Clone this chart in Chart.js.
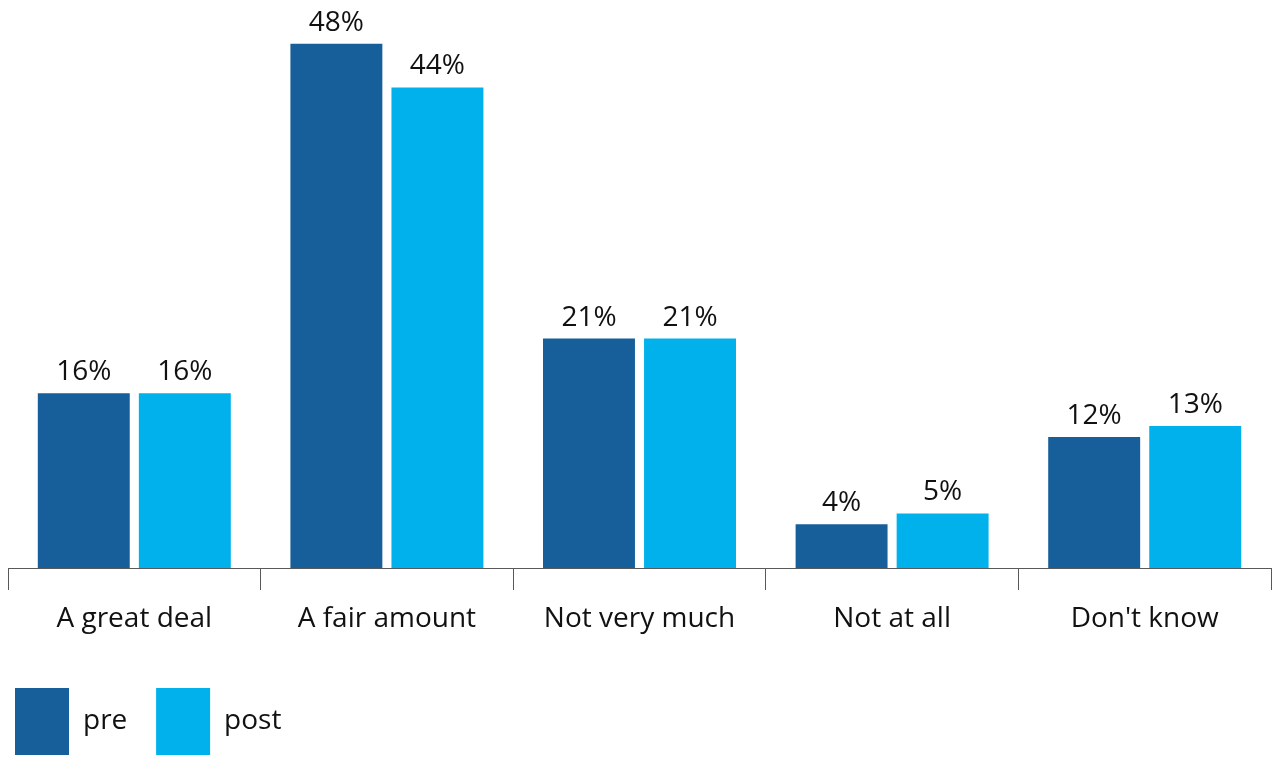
<!DOCTYPE html>
<html>
<head>
<meta charset="utf-8">
<script src="https://cdn.jsdelivr.net/npm/chart.js@4.4.1/dist/chart.umd.min.js"></script>
<style>
  html, body { margin: 0; padding: 0; background: #ffffff; }
  #wrap { width: 1276px; height: 758px; position: relative; }
</style>
</head>
<body>
<div id="wrap"><canvas id="c" width="1276" height="758"></canvas></div>
<script>
const categories = ["A great deal", "A fair amount", "Not very much", "Not at all", "Don't know"];
const preValues = [16, 48, 21, 4, 12];
const postValues = [16, 44, 21, 5, 13];
const seriesNames = ["pre", "post"];
const seriesColors = ["#165f9a", "#00b1eb"];

const FONT = "'Open Sans', 'DejaVu Sans', sans-serif";

const valueLabels = {
  id: 'valueLabels',
  afterDatasetsDraw(chart) {
    const ctx = chart.ctx;
    ctx.save();
    ctx.font = "28px " + FONT;
    ctx.fillStyle = "#111111";
    ctx.textAlign = "center";
    ctx.textBaseline = "alphabetic";
    chart.data.datasets.forEach((ds, di) => {
      const meta = chart.getDatasetMeta(di);
      meta.data.forEach((el, i) => {
        ctx.fillText(ds.data[i] + "%", el.x, el.y - 13);
      });
    });
    ctx.restore();
  }
};

new Chart(document.getElementById('c'), {
  type: 'bar',
  data: {
    labels: categories,
    datasets: [
      { label: seriesNames[0] + "   ", data: preValues, backgroundColor: seriesColors[0], borderWidth: 0,
        categoryPercentage: 0.8, barPercentage: 0.91 },
      { label: seriesNames[1], data: postValues, backgroundColor: seriesColors[1], borderWidth: 0,
        categoryPercentage: 0.8, barPercentage: 0.91 }
    ]
  },
  options: {
    responsive: false,
    animation: false,
    devicePixelRatio: 1,
    layout: { padding: { left: 8, right: 5, top: 0, bottom: 0 } },
    scales: {
      y: { display: false, min: 0, max: 52 },
      x: {
        grid: { display: true, offset: true, drawOnChartArea: false, drawTicks: true, tickLength: 22, color: "#595959", lineWidth: 1 },
        border: { display: true, color: "#595959", width: 1 },
        ticks: { font: { family: FONT, size: 28 }, color: "#111111", padding: 12 },
        afterFit(scale) { scale.height = 113; }
      }
    },
    plugins: {
      tooltip: { enabled: false },
      legend: {
        display: true,
        position: 'bottom',
        align: 'start',
        maxHeight: 77,
        labels: {
          boxWidth: 54,
          boxHeight: 67,
          padding: 7,
          color: "#111111",
          font: { family: FONT, size: 28 }
        }
      }
    }
  },
  plugins: [valueLabels]
});
</script>
</body>
</html>
